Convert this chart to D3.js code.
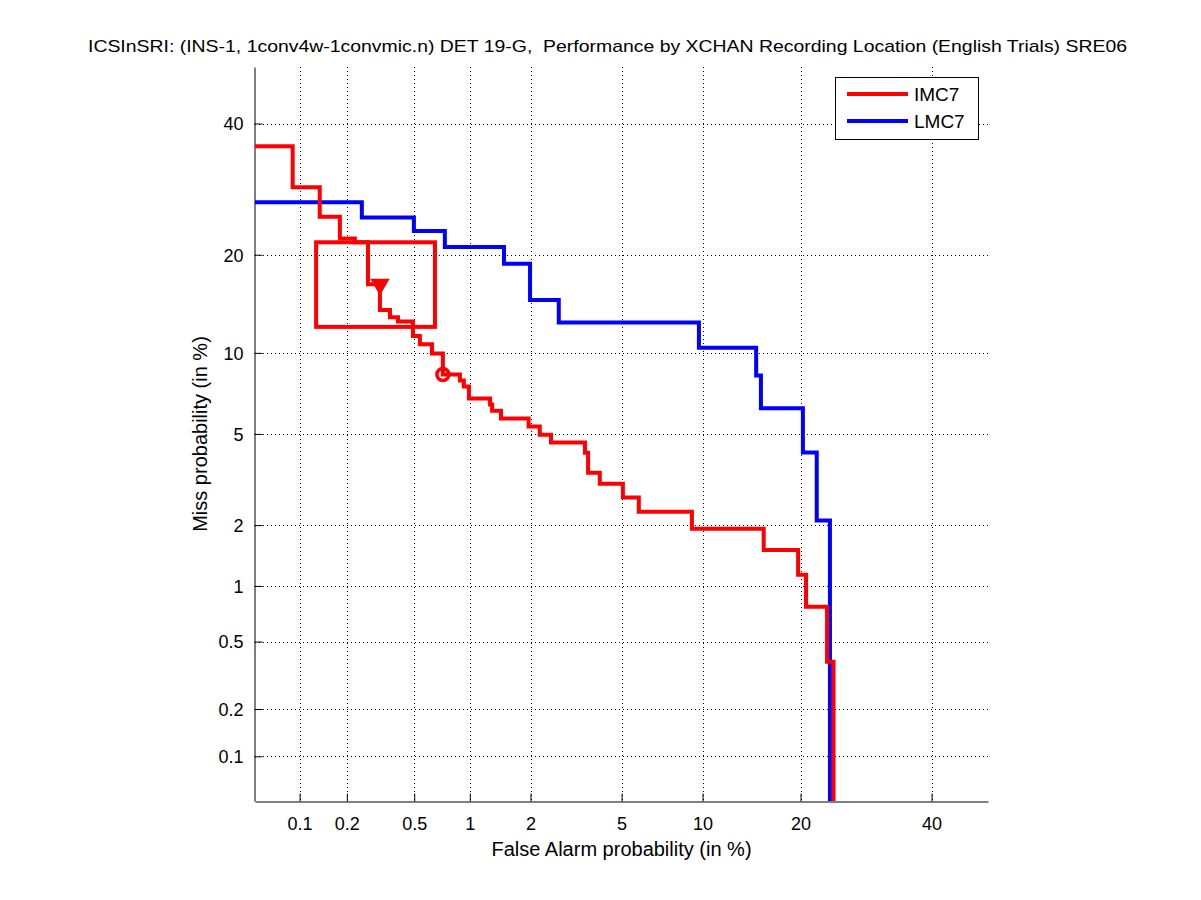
<!DOCTYPE html>
<html>
<head>
<meta charset="utf-8">
<script src="https://cdn.jsdelivr.net/npm/d3@7"></script>
<style>
  html, body { margin: 0; padding: 0; background: #fff; }
  svg text { font-family: "Liberation Sans", Arial, Helvetica, sans-serif; fill: #000; }
</style>
</head>
<body>
<svg id="chart" width="1201" height="900"></svg>
<script>
// ---------------- data (percent) ----------------
const titleText = "ICSInSRI: (INS-1, 1conv4w-1convmic.n) DET 19-G,  Performance by XCHAN Recording Location (English Trials) SRE06";
const xLabel = "False Alarm probability (in %)";
const yLabel = "Miss probability (in %)";
const tickValues = [0.1, 0.2, 0.5, 1, 2, 5, 10, 20, 40];
const tickLabels = ["0.1", "0.2", "0.5", "1", "2", "5", "10", "20", "40"];
const axisLimits = [0.05, 50];

const seriesNames = ["IMC7", "LMC7"];
const seriesColors = ["#ff0000", "#0000ff"];

// IMC7 staircase: at each false alarm value the miss rate drops to the given value
const imc7Pfa  = [0.01, 0.090, 0.135, 0.181, 0.224, 0.269, 0.317, 0.363, 0.404, 0.492, 0.538, 0.628, 0.72, 0.888, 0.931, 0.99, 1.27, 1.30, 1.44, 1.96, 2.21, 2.49, 3.52, 3.63, 4.07, 5.06, 5.85, 9.19, 15.7, 19.7, 20.7, 23.5, 24.4];
const imc7Pmiss = [36.1, 29.5, 25.1, 22.1, 21.6, 16.5, 13.8, 13.1, 12.7, 11.4, 10.7, 9.95, 8.4, 8.0, 7.6, 6.86, 6.51, 6.17, 5.75, 5.35, 4.96, 4.61, 4.19, 3.45, 3.09, 2.68, 2.31, 1.92, 1.52, 1.14, 0.776, 0.383, 0.001];

// LMC7 staircase
const lmc7Pfa  = [0.01, 0.247, 0.498, 0.738, 1.49, 1.99, 2.70, 9.72, 14.9, 15.4, 20.3, 22.1, 23.9];
const lmc7Pmiss = [27.2, 25.0, 23.1, 21.0, 18.9, 14.8, 12.6, 10.4, 8.33, 6.30, 4.20, 2.10, 0.001];

// IMC7 confidence box and operating points
const boxPfa = [0.128, 0.652];
const boxPmiss = [12.2, 21.6];
const actPoint = [0.317, 16.5];   // triangle (actual decision)
const minPoint = [0.72, 8.4];     // circle (min DCF)

// ---------------- helpers ----------------
function probit(p) {
  const a = [-3.969683028665376e+01, 2.209460984245205e+02, -2.759285104469687e+02, 1.383577518672690e+02, -3.066479806614716e+01, 2.506628277459239e+00];
  const b = [-5.447609879822406e+01, 1.615858368580409e+02, -1.556989798598866e+02, 6.680131188771972e+01, -1.328068155288572e+01];
  const c = [-7.784894002430293e-03, -3.223964580411365e-01, -2.400758277161838e+00, -2.549671010739305e+00, 4.374664141464968e+00, 2.938163982698783e+00];
  const d = [7.784695709041462e-03, 3.224671290700398e-01, 2.445134137142996e+00, 3.754408661907416e+00];
  const pl = 0.02425, ph = 1 - pl;
  let q, r;
  if (p < pl) {
    q = Math.sqrt(-2 * Math.log(p));
    return (((((c[0]*q+c[1])*q+c[2])*q+c[3])*q+c[4])*q+c[5]) / ((((d[0]*q+d[1])*q+d[2])*q+d[3])*q+1);
  }
  if (p <= ph) {
    q = p - 0.5; r = q*q;
    return (((((a[0]*r+a[1])*r+a[2])*r+a[3])*r+a[4])*r+a[5])*q / (((((b[0]*r+b[1])*r+b[2])*r+b[3])*r+b[4])*r+1);
  }
  q = Math.sqrt(-2 * Math.log(1 - p));
  return -(((((c[0]*q+c[1])*q+c[2])*q+c[3])*q+c[4])*q+c[5]) / ((((d[0]*q+d[1])*q+d[2])*q+d[3])*q+1);
}

// a percent -> normal-deviate scale usable by d3 axes
function probitScale(domain, range) {
  const lin = d3.scaleLinear().domain(domain.map(v => probit(v / 100))).range(range);
  function s(v) { return lin(probit(v / 100)); }
  s.domain = () => domain.slice();
  s.range = () => lin.range();
  s.copy = () => probitScale(domain, range);
  return s;
}

// ---------------- layout ----------------
const L = 255, R = 988, T = 67, B = 801;
const x = probitScale(axisLimits, [L, R]);
const y = probitScale(axisLimits, [B, T]);

const svg = d3.select("#chart");

// grid
const grid = svg.append("g").attr("stroke", "#000").attr("stroke-width", 1).attr("stroke-dasharray", "1,3");
grid.selectAll("line.gx").data(tickValues).join("line")
  .attr("x1", d => Math.round(x(d)) + 0.5).attr("x2", d => Math.round(x(d)) + 0.5)
  .attr("y1", T).attr("y2", B);
grid.selectAll("line.gy").data(tickValues).join("line")
  .attr("y1", d => Math.round(y(d)) + 0.5).attr("y2", d => Math.round(y(d)) + 0.5)
  .attr("x1", L).attr("x2", R);

// axes
const xAxis = d3.axisBottom(x).tickValues(tickValues).tickFormat((d, i) => tickLabels[i]).tickSizeInner(-8).tickSizeOuter(0).tickPadding(16);
const yAxis = d3.axisLeft(y).tickValues(tickValues).tickFormat((d, i) => tickLabels[i]).tickSizeInner(-8).tickSizeOuter(0).tickPadding(11);

const gx = svg.append("g").attr("transform", `translate(0,${B + 0.5})`).call(xAxis);
const gy = svg.append("g").attr("transform", `translate(${L - 0.5},0)`).call(yAxis);
[gx, gy].forEach(g => {
  g.select(".domain").attr("stroke", "#000").attr("stroke-width", 1);
  g.selectAll(".tick line").attr("stroke", "#000").attr("stroke-width", 1);
  g.selectAll(".tick text").attr("font-size", 18).attr("font-family", "'Liberation Sans', Arial, sans-serif").attr("fill", "#000");
});
gx.selectAll(".tick text").attr("dy", "0.71em");
gy.selectAll(".tick text").attr("dy", "0.35em");

// clip
svg.append("clipPath").attr("id", "plotclip").append("rect")
  .attr("x", L).attr("y", T).attr("width", R - L).attr("height", B - T);

const plot = svg.append("g").attr("clip-path", "url(#plotclip)");

const line = d3.line().x(d => x(d[0])).y(d => y(d[1])).curve(d3.curveStepAfter);

// confidence box
plot.append("rect")
  .attr("x", x(boxPfa[0])).attr("y", y(boxPmiss[1]))
  .attr("width", x(boxPfa[1]) - x(boxPfa[0])).attr("height", y(boxPmiss[0]) - y(boxPmiss[1]))
  .attr("fill", "none").attr("stroke", seriesColors[0]).attr("stroke-width", 4);

const series = [
  d3.zip(imc7Pfa, imc7Pmiss),
  d3.zip(lmc7Pfa, lmc7Pmiss)
];
// draw blue first, red on top
[1, 0].forEach(i => {
  plot.append("path").datum(series[i]).attr("d", line)
    .attr("fill", "none").attr("stroke", seriesColors[i]).attr("stroke-width", 4)
    .attr("stroke-linejoin", "miter").attr("stroke-linecap", "square");
});

// markers
plot.append("path")
  .attr("d", d3.symbol(d3.symbolTriangle, 110)())
  .attr("transform", `translate(${x(actPoint[0])},${y(actPoint[1])}) rotate(180)`)
  .attr("fill", seriesColors[0]).attr("stroke", seriesColors[0]).attr("stroke-width", 2);
plot.append("circle")
  .attr("cx", x(minPoint[0])).attr("cy", y(minPoint[1])).attr("r", 6)
  .attr("fill", "none").attr("stroke", seriesColors[0]).attr("stroke-width", 3.5);

// legend
const lg = svg.append("g");
lg.append("rect").attr("x", 835.5).attr("y", 77.5).attr("width", 143).attr("height", 62)
  .attr("fill", "#fff").attr("stroke", "#000").attr("stroke-width", 1);
seriesNames.forEach((name, i) => {
  const yy = 94 + i * 27;
  lg.append("line").attr("x1", 847).attr("x2", 908).attr("y1", yy).attr("y2", yy)
    .attr("stroke", seriesColors[i]).attr("stroke-width", 4);
  lg.append("text").attr("x", 914).attr("y", yy).attr("dy", "0.36em")
    .attr("font-size", 19).text(name);
});

// labels
svg.append("text").attr("x", 88).attr("y", 52).attr("font-size", 17)
  .attr("xml:space", "preserve").style("white-space", "pre")
  .attr("textLength", 1039).attr("lengthAdjust", "spacingAndGlyphs").text(titleText);
svg.append("text").attr("x", (L + R) / 2).attr("y", 856).attr("text-anchor", "middle")
  .attr("font-size", 20).text(xLabel);
svg.append("text").attr("transform", `translate(207,${(T + B) / 2}) rotate(-90)`)
  .attr("text-anchor", "middle").attr("font-size", 20).text(yLabel);
</script>
</body>
</html>
